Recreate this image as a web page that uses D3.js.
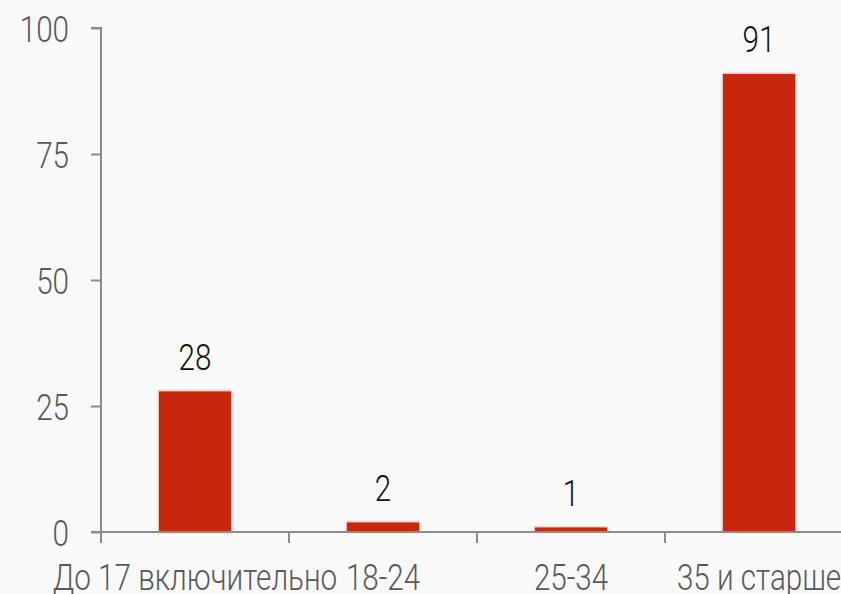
<!DOCTYPE html>
<html>
<head>
<meta charset="utf-8">
<script src="https://cdn.jsdelivr.net/npm/d3@7"></script>
<style>
  html, body { margin: 0; padding: 0; background: #f9f9f9; }
  svg { display: block; overflow: hidden; }
  text { font-family: Roboto, "Open Sans", sans-serif; font-weight: 300; }
</style>
</head>
<body>
<div id="chart"></div>
<script>
const categories = ['До 17 включительно', '18-24', '25-34', '35 и старше']
const values = [28, 2, 1, 91]
const yTicks = [0, 25, 50, 75, 100]

const width = 841, height = 594
const margin = {top: 28, right: -12, bottom: 62, left: 101}
const squeeze = 0.8   // the original font is a condensed face

const svg = d3.select('#chart').append('svg')
  .attr('width', width)
  .attr('height', height)

svg.append('rect').attr('width', width).attr('height', height).attr('fill', '#f9f9f9')

const x = d3.scaleBand()
  .domain(categories)
  .range([margin.left, width - margin.right])
  .paddingInner(0.61).paddingOuter(0.305)

const y = d3.scaleLinear()
  .domain([0, 100])
  .range([height - margin.bottom, margin.top])

// bars with a faint shadow edge
const shadow = svg.append('defs').append('filter').attr('id', 'sh')
  .attr('x', '-10%').attr('y', '-10%').attr('width', '120%').attr('height', '120%')
shadow.append('feDropShadow').attr('dx', 0).attr('dy', 0).attr('stdDeviation', 1.2)
  .attr('flood-color', '#000').attr('flood-opacity', 0.25)

svg.append('g').selectAll('rect')
  .data(values)
  .enter().append('rect')
  .attr('x', (d, i) => x(categories[i]))
  .attr('y', d => y(d))
  .attr('width', x.bandwidth())
  .attr('height', d => y(0) - y(d))
  .attr('fill', '#c8250a')
  .attr('stroke', '#f3d6d0')
  .attr('stroke-width', 1)
  .attr('filter', 'url(#sh)')

// y axis
const yAxis = svg.append('g')
  .attr('transform', 'translate(' + margin.left + ',0)')
  .call(d3.axisLeft(y).tickValues(yTicks).tickSize(10).tickPadding(22))
yAxis.select('.domain').attr('stroke', '#8c8c8c').attr('stroke-width', 2)
  .attr('d', 'M-10,' + y(100) + 'H0V' + y(0))
yAxis.selectAll('.tick line').attr('stroke', '#8c8c8c').attr('stroke-width', 2)
yAxis.selectAll('.tick text')
  .attr('fill', '#595959').attr('font-size', 37).attr('dy', '0.36em')
  .attr('transform', 'translate(-32,0) scale(' + squeeze + ',1)').attr('x', 0)

// x axis: ticks at band boundaries
const bounds = categories.map(c => x(c) - x.step() * x.paddingInner() / 2)
const xAxis = svg.append('g').attr('transform', 'translate(0,' + y(0) + ')')
xAxis.append('line')
  .attr('x1', margin.left - 10).attr('x2', width)
  .attr('stroke', '#8c8c8c').attr('stroke-width', 2)
xAxis.selectAll('.tk').data(bounds).enter().append('line')
  .attr('x1', d => d).attr('x2', d => d)
  .attr('y1', 0).attr('y2', 11)
  .attr('stroke', '#8c8c8c').attr('stroke-width', 2)
xAxis.selectAll('.lbl').data(categories).enter().append('text')
  .attr('transform', d => 'translate(' + (x(d) + x.bandwidth() / 2) + ',58) scale(' + squeeze + ',1)')
  .attr('text-anchor', 'middle')
  .attr('fill', '#595959')
  .attr('font-size', 37)
  .text(d => d)

// value labels
svg.append('g').selectAll('text')
  .data(values)
  .enter().append('text')
  .attr('transform', (d, i) => 'translate(' + (x(categories[i]) + x.bandwidth() / 2) + ',' + (y(d) - 21) + ') scale(' + squeeze + ',1)')
  .attr('text-anchor', 'middle')
  .attr('fill', '#111')
  .attr('font-size', 37)
  .text(d => d)
</script>
</body>
</html>
